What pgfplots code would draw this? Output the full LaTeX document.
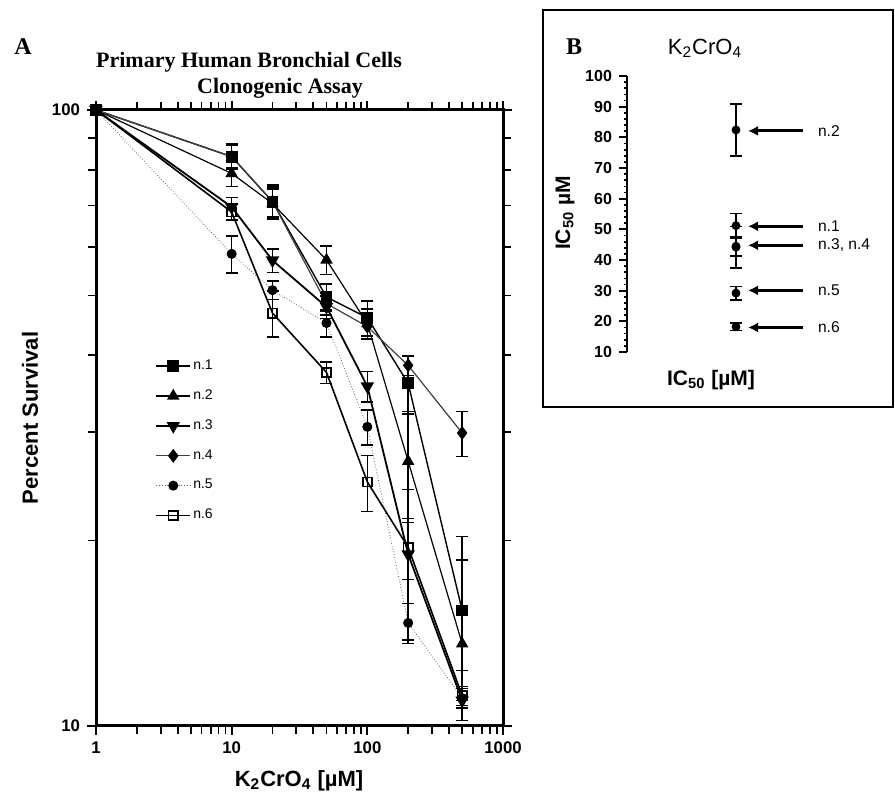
\documentclass[border=0pt]{standalone}
\usepackage{fontspec}
\setmainfont{Liberation Serif}
\setsansfont{Liberation Sans}
\usepackage{pgfplots}
\pgfplotsset{compat=1.18}
\usetikzlibrary{arrows.meta}

\pgfplotsset{
  ebar/.style={error bars/.cd, y dir=both, y explicit,
    error bar style={solid, black, line width=0.75pt},
    error mark options={rotate=90, black, solid, line width=0.75pt, mark size=3pt}},
}

\begin{document}
\begin{tikzpicture}
\path[use as bounding box] (0,0) rectangle (447.5pt,-398pt);

% panel A
\begin{axis}[
  at={(48pt,-363pt)}, anchor=south west,
  scale only axis, width=203.5pt, height=308pt,
  xmode=log, ymode=log,
  xmin=1, xmax=1000, ymin=10, ymax=100,
  xtick={1,10,100,1000}, xticklabels={1,10,100,1000},
  ytick={10,100}, yticklabels={10,100},
  minor xtick={2,3,4,5,6,7,8,9,20,30,40,50,60,70,80,90,200,300,400,500,600,700,800,900},
  minor ytick={20,30,40,50,60,70,80,90},
  tick align=outside,
  major tick length=4.5pt, minor tick length=4pt,
  every tick/.style={black, line width=0.9pt},
  axis line style={line width=1.5pt},
  tick label style={font=\sffamily\bfseries\fontsize{8.4}{10}\selectfont},
  clip=false,
  legend style={draw=none, fill=none, at={(0.13,0.605)}, anchor=north west,
    font=\sffamily\fontsize{7}{8}\selectfont, row sep=6.6pt,
    nodes={inner sep=1pt}},
  legend cell align=left,
]
\addplot[black, line width=0.7pt, mark=square*, mark size=2.6pt, mark options={solid, fill=black}, ebar]
  coordinates {(1,100) +- (0,0) (10,84) +- (0,4) (20,71) +- (0,4.5) (50,49.7) +- (0,2.5)
    (100,46) +- (0,3) (200,36) +- (0,3.9) (500,15.4) += (0,4.9) -= (0,4.4)};
\addlegendentry{n.1}
\addplot[black, line width=0.6pt, mark=triangle*, mark size=3pt, mark options={solid, fill=black}, ebar]
  coordinates {(1,100) +- (0,0) (10,78.9) +- (0,3.8) (20,70.5) +- (0,4) (50,57.1) +- (0,3)
    (100,45) +- (0,2.5) (200,26.9) +- (0,5.5) (500,13.6) += (0,5) -= (0,2.6)};
\addlegendentry{n.2}
\addplot[black, line width=0.9pt, mark=triangle*, mark size=3pt, mark options={solid, fill=black, rotate=180}, ebar]
  coordinates {(1,100) +- (0,0) (10,69.6) +- (0,2.5) (20,57) +- (0,2.5) (50,47.9) +- (0,2)
    (100,35.6) +- (0,2) (200,19) +- (0,5.2) (500,11) += (0,1.3) -= (0,0.8)};
\addlegendentry{n.3}
\addplot[black!75, line width=0.6pt, mark=diamond*, mark size=3pt, mark options={solid, black, fill=black}, ebar]
  coordinates {(1,100) +- (0,0) (10,84) +- (0,3.5) (20,71) +- (0,4) (50,48.5) +- (0,2)
    (100,44.5) +- (0,2) (200,38.5) +- (0,1.4) (500,29.9) +- (0,2.5)};
\addlegendentry{n.4}
\addplot[black!60, line width=0.4pt, densely dotted, mark=*, mark size=2.3pt, mark options={solid, black, fill=black}, ebar]
  coordinates {(1,100) +- (0,0) (10,58.4) +- (0,4) (20,51) +- (0,1.8) (50,45.1) +- (0,2.3)
    (100,30.6) +- (0,2) (200,14.7) +- (0,1.1) (500,11.1) +- (0,0.4)};
\addlegendentry{n.5}
\addplot[black, line width=0.8pt, mark=square, mark size=2.3pt, mark options={solid, black, fill=white}, ebar]
  coordinates {(1,100) +- (0,0) (10,68.3) +- (0,2) (20,46.8) +- (0,4) (50,37.5) +- (0,1.5)
    (100,24.9) +- (0,2.6) (200,19.5) +- (0,2.2) (500,11.2) +- (0,0.4)};
\addlegendentry{n.6}
% inverted triangle of n.3 shows on top at 500
\addplot[only marks, black, mark=triangle*, mark size=3pt, mark options={fill=black, rotate=180}, forget plot]
  coordinates {(500,11)};
\end{axis}

\node[font=\bfseries\fontsize{12}{14}\selectfont] at (11.5pt,-23.5pt) {A};
\node[font=\bfseries\fontsize{11}{13}\selectfont] at (124.5pt,-31pt) {Primary Human Bronchial Cells};
\node[font=\bfseries\fontsize{11}{13}\selectfont] at (140pt,-44pt) {Clonogenic Assay};
\node[rotate=90, font=\sffamily\bfseries\fontsize{11}{13}\selectfont] at (15pt,-209pt) {Percent Survival};
\node[font=\sffamily\bfseries\fontsize{11}{13}\selectfont] at (149.5pt,-390.5pt) {K\textsubscript{2}CrO\textsubscript{4} [µM]};

% panel B
\draw[line width=0.6pt] (271.5pt,-5pt) rectangle (446.5pt,-203.5pt);
\begin{axis}[
  at={(313.5pt,-176pt)}, anchor=south west,
  scale only axis, width=133pt, height=138pt,
  xmin=0, xmax=266, ymin=10, ymax=100,
  axis x line=none, axis y line*=left,
  ytick={10,20,...,100}, minor y tick num=4,
  tick align=outside,
  major tick length=4pt, minor tick length=1.5pt,
  every tick/.style={black, line width=0.9pt},
  axis line style={line width=1.2pt},
  /pgf/number format/assume math mode=true,
  tick label style={font=\sffamily\bfseries\fontsize{8}{10}\selectfont},
  clip=false,
]
\addplot[only marks, mark=*, mark size=2pt, black, ebar]
  coordinates {(109,82.4) +- (0,8.5) (109,51.2) +- (0,4) (109,44.5) +- (0,3.2)
    (109,44.2) +- (0,6.8) (109,29.2) +- (0,2.2) (109,18.2) +- (0,1.2)};
\addplot[black, line width=1.5pt, -{Latex[length=5pt, width=5pt]}] coordinates {(176,82.1) (121,82.1)};
\addplot[black, line width=1.5pt, -{Latex[length=5pt, width=5pt]}] coordinates {(176,51.0) (121,51.0)};
\addplot[black, line width=1.5pt, -{Latex[length=5pt, width=5pt]}] coordinates {(176,44.8) (121,44.8)};
\addplot[black, line width=1.5pt, -{Latex[length=5pt, width=5pt]}] coordinates {(176,30.1) (121,30.1)};
\addplot[black, line width=1.5pt, -{Latex[length=5pt, width=5pt]}] coordinates {(176,18.0) (121,18.0)};
\node[anchor=west, font=\sffamily\fontsize{7.8}{9}\selectfont] at (axis cs:184,82.1) {n.2};
\node[anchor=west, font=\sffamily\fontsize{7.8}{9}\selectfont] at (axis cs:184,51.0) {n.1};
\node[anchor=west, font=\sffamily\fontsize{7.8}{9}\selectfont] at (axis cs:184,44.8) {n.3, n.4};
\node[anchor=west, font=\sffamily\fontsize{7.8}{9}\selectfont] at (axis cs:184,30.1) {n.5};
\node[anchor=west, font=\sffamily\fontsize{7.8}{9}\selectfont] at (axis cs:184,18.0) {n.6};
\end{axis}

\node[font=\bfseries\fontsize{12}{14}\selectfont] at (287pt,-23.5pt) {B};
\node[font=\sffamily\fontsize{11}{13}\selectfont] at (352.5pt,-24pt) {K\textsubscript{2}CrO\textsubscript{4}};
\node[font=\sffamily\bfseries\fontsize{10.5}{12}\selectfont] at (355.5pt,-190pt) {IC\textsubscript{50} [µM]};
\node[rotate=90, font=\sffamily\bfseries\fontsize{10.5}{12}\selectfont] at (282.5pt,-106.5pt) {IC\textsubscript{50} µM};
\end{tikzpicture}
\end{document}
